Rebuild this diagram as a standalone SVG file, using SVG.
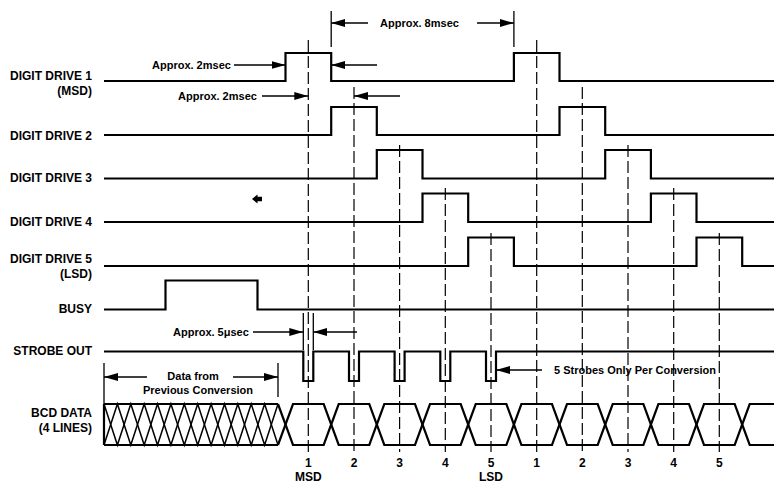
<svg xmlns="http://www.w3.org/2000/svg" width="774" height="484" viewBox="0 0 774 484">
<defs>
<marker id="ah" markerUnits="userSpaceOnUse" markerWidth="14" markerHeight="8" refX="14" refY="4" orient="auto">
<path d="M0,0 L14,4 L0,8 Z" fill="#000"/>
</marker>
<style>
text{font-family:"Liberation Sans",Arial,sans-serif;font-weight:bold;fill:#000}
.lbl{font-size:12px;text-anchor:end}
.ann{font-size:11px}
.num{font-size:12px;text-anchor:middle}
.sig{fill:none;stroke:#000;stroke-width:2.2;stroke-linejoin:miter}
.dash{fill:none;stroke:#000;stroke-width:1.2;stroke-dasharray:12 4}
.arr{fill:none;stroke:#000;stroke-width:1.5;marker-end:url(#ah)}
.tick{fill:none;stroke:#000;stroke-width:1.3}
.hatch{fill:none;stroke:#000;stroke-width:1.5;stroke-linejoin:miter}
</style>
</defs>
<rect width="774" height="484" fill="#fff"/>

<g id="connectors">
<path class="dash" d="M308.3,40 V452 M354,87 V452 M399.6,145 V452 M445.3,188 V452 M491,233 V452 M536.7,40 V452 M582.3,87 V452 M628,145 V452 M673.7,188 V452 M719.3,233 V452"/>
<path class="tick" d="M331.2,11 V47 M513.9,11 V47 M303.3,313 V350 M313.3,313 V350 M104,363 V404 M278,363 V397"/>
<line class="arr" x1="368" y1="23" x2="331.2" y2="23"/>
<line class="arr" x1="477" y1="23" x2="513.9" y2="23"/>
<line class="arr" x1="234" y1="65" x2="285.5" y2="65"/>
<line class="arr" x1="377" y1="65" x2="331.2" y2="65"/>
<line class="arr" x1="262" y1="96" x2="308.3" y2="96"/>
<line class="arr" x1="400" y1="96" x2="354" y2="96"/>
<line class="arr" x1="253" y1="332" x2="303.3" y2="332"/>
<line class="arr" x1="357" y1="332" x2="313.3" y2="332"/>
<line class="arr" x1="147" y1="377" x2="104" y2="377"/>
<line class="arr" x1="233" y1="377" x2="278" y2="377"/>
<line class="arr" x1="542" y1="370" x2="496" y2="370"/>
</g>

<g id="annotations">
<text class="ann" x="380" y="27">Approx. 8msec</text>
<text class="ann" x="152" y="69">Approx. 2msec</text>
<text class="ann" x="178" y="100">Approx. 2msec</text>
<text class="ann" x="173" y="336">Approx. 5μsec</text>
<text class="ann" x="193" y="380" text-anchor="middle">Data from</text>
<text class="ann" x="198" y="394" text-anchor="middle">Previous Conversion</text>
<text class="ann" x="554" y="374">5 Strobes Only Per Conversion</text>
<path d="M252,199 L257.5,194.5 L257.5,196.8 L262,196.8 L262,201.2 L257.5,201.2 L257.5,203.5 Z" fill="#000"/>
</g>

<g id="digit-drive-1">
<text class="lbl" x="92" y="79.5">DIGIT DRIVE 1</text>
<text class="lbl" x="92" y="94.5">(MSD)</text>
<path class="sig" d="M104,81 H285.5 V53 H331.2 V81 H513.9 V53 H559.5 V81 H774"/>
</g>
<g id="digit-drive-2">
<text class="lbl" x="92" y="139.5">DIGIT DRIVE 2</text>
<path class="sig" d="M104,135 H331.2 V107 H376.8 V135 H559.5 V107 H605.2 V135 H774"/>
</g>
<g id="digit-drive-3">
<text class="lbl" x="92" y="182">DIGIT DRIVE 3</text>
<path class="sig" d="M104,178.5 H376.8 V150 H422.5 V178.5 H605.2 V150 H650.9 V178.5 H774"/>
</g>
<g id="digit-drive-4">
<text class="lbl" x="92" y="226">DIGIT DRIVE 4</text>
<path class="sig" d="M104,222 H422.5 V193.5 H468.2 V222 H650.9 V193.5 H696.5 V222 H774"/>
</g>
<g id="digit-drive-5">
<text class="lbl" x="92" y="263">DIGIT DRIVE 5</text>
<text class="lbl" x="92" y="278">(LSD)</text>
<path class="sig" d="M104,266 H468.2 V237.5 H513.9 V266 H696.5 V237.5 H742.2 V266 H774"/>
</g>
<g id="busy">
<text class="lbl" x="92" y="313">BUSY</text>
<path class="sig" d="M104,309.5 H165.5 V280.5 H257.5 V309.5 H774"/>
</g>
<g id="strobe-out">
<text class="lbl" x="92" y="355">STROBE OUT</text>
<path class="sig" d="M104,351.5 H303.3 V381 H313.3 V351.5 H349 V381 H359 V351.5 H394.6 V381 H404.6 V351.5 H440.3 V381 H450.3 V351.5 H486 V381 H496 V351.5 H774"/>
</g>
<g id="bcd-data">
<text class="lbl" x="92" y="416.5">BCD DATA</text>
<text class="lbl" x="92" y="431.5">(4 LINES)</text>
<path class="sig" d="M104,404 H278 M104,445 H278 M104,404 V445"/>
<polyline class="hatch" points="104,404 117.4,445 130.8,404 144.2,445 157.5,404 170.9,445 184.3,404 197.7,445 211.1,404 224.5,445 237.8,404 251.2,445 264.6,404 278,445"/>
<polyline class="hatch" points="104,445 117.4,404 130.8,445 144.2,404 157.5,445 170.9,404 184.3,445 197.7,404 211.1,445 224.5,404 237.8,445 251.2,404 264.6,445 278,404"/>
<path class="sig" d="M278,404 L285.5,424.5 L278,445 M742.2,424.5 L749.7,404 H774 M742.2,424.5 L749.7,445 H774"/>
<g class="sig">
<polygon points="285.5,424.5 293,404 323.7,404 331.2,424.5 323.7,445 293,445"/>
<polygon points="331.2,424.5 338.7,404 369.3,404 376.8,424.5 369.3,445 338.7,445"/>
<polygon points="376.8,424.5 384.3,404 415,404 422.5,424.5 415,445 384.3,445"/>
<polygon points="422.5,424.5 430,404 460.7,404 468.2,424.5 460.7,445 430,445"/>
<polygon points="468.2,424.5 475.7,404 506.4,404 513.9,424.5 506.4,445 475.7,445"/>
<polygon points="513.9,424.5 521.4,404 552,404 559.5,424.5 552,445 521.4,445"/>
<polygon points="559.5,424.5 567,404 597.7,404 605.2,424.5 597.7,445 567,445"/>
<polygon points="605.2,424.5 612.7,404 643.4,404 650.9,424.5 643.4,445 612.7,445"/>
<polygon points="650.9,424.5 658.4,404 689,404 696.5,424.5 689,445 658.4,445"/>
<polygon points="696.5,424.5 704,404 734.7,404 742.2,424.5 734.7,445 704,445"/>
</g>
</g>

<g id="digit-labels">
<text class="num" x="308.3" y="467">1</text>
<text class="num" x="354" y="467">2</text>
<text class="num" x="399.6" y="467">3</text>
<text class="num" x="445.3" y="467">4</text>
<text class="num" x="491" y="467">5</text>
<text class="num" x="536.7" y="467">1</text>
<text class="num" x="582.3" y="467">2</text>
<text class="num" x="628" y="467">3</text>
<text class="num" x="673.7" y="467">4</text>
<text class="num" x="719.3" y="467">5</text>
<text class="num" x="308.3" y="480.5">MSD</text>
<text class="num" x="491" y="480.5">LSD</text>
</g>
</svg>
